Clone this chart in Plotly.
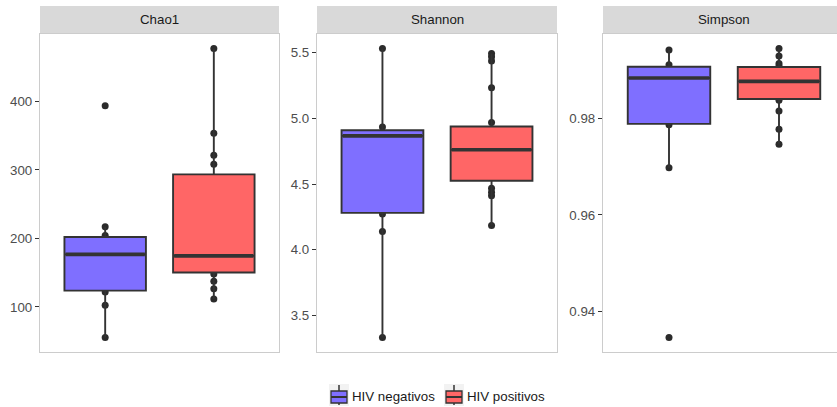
import plotly.graph_objects as go

W, H = 837, 407

GROUPS = ["HIV negativos", "HIV positivos"]
METRICS = ["Chao1", "Shannon", "Simpson"]
FILLS = ["rgb(127,111,255)", "rgb(255,102,102)"]

chao1_neg = [393.7, 217.0, 204.4, 194.7, 176.7, 146.0, 122.0, 102.4, 55.4]
chao1_pos = [477.2, 353.4, 321.4, 308.3, 279.6, 204.3, 188.8, 167.9, 148.0, 137.4, 126.7, 111.7]
shannon_neg = [5.533, 4.935, 4.870, 4.356, 4.272, 4.138, 3.330]
shannon_pos = [5.495, 5.470, 5.437, 5.234, 4.968, 4.918, 4.854, 4.715, 4.670, 4.594,
               4.467, 4.437, 4.411, 4.184]
simpson_neg = [0.99421, 0.99117, 0.98841, 0.98276, 0.97869, 0.96979, 0.93455]
simpson_pos = [0.99455, 0.99297, 0.99145, 0.99090, 0.98883, 0.98607, 0.98379, 0.98159,
               0.97779, 0.97469]

# box statistics: [negativos, positivos]
chao1_q1 = [123.8, 150.4]
chao1_med = [176.7, 174.5]
chao1_q3 = [202.0, 293.5]
chao1_lo = [55.4, 111.7]
chao1_hi = [217.0, 477.2]

shannon_q1 = [4.280, 4.525]
shannon_med = [4.867, 4.761]
shannon_q3 = [4.910, 4.938]
shannon_lo = [3.330, 4.184]
shannon_hi = [5.533, 5.495]

simpson_q1 = [0.97890, 0.98407]
simpson_med = [0.98841, 0.98772]
simpson_q3 = [0.99076, 0.99069]
simpson_lo = [0.96979, 0.97469]
simpson_hi = [0.99421, 0.99455]

chao1_ticks = [100, 200, 300, 400]
shannon_ticks = [3.5, 4.0, 4.5, 5.0, 5.5]
simpson_ticks = [0.94, 0.96, 0.98]

panels = [
    dict(name="Chao1", pts=[chao1_neg, chao1_pos], q1=chao1_q1, med=chao1_med, q3=chao1_q3,
         lo=chao1_lo, hi=chao1_hi, ticks=chao1_ticks, fmt="d"),
    dict(name="Shannon", pts=[shannon_neg, shannon_pos], q1=shannon_q1, med=shannon_med,
         q3=shannon_q3, lo=shannon_lo, hi=shannon_hi, ticks=shannon_ticks, fmt=".1f"),
    dict(name="Simpson", pts=[simpson_neg, simpson_pos], q1=simpson_q1, med=simpson_med,
         q3=simpson_q3, lo=simpson_lo, hi=simpson_hi, ticks=simpson_ticks, fmt=".2f"),
]

# pixel layout
PX_LEFT = [40, 317, 603]
PX_RIGHT = [279, 557, 845]
PLOT_TOP, PLOT_BOT = 34, 352
STRIP_TOP = 6
BOX_W = 0.75
FONT = "Liberation Sans, Arial, sans-serif"
BORDER = "#CCCCCC"
DARK = "#333333"

# legend key geometry (pixels)
KEY_X = [329, 444]
KEY_TOP, KEY_BOT = 384, 406
KEY_W = 20

fig = go.Figure()
layout = dict(
    width=W, height=H, margin=dict(l=0, r=0, t=0, b=0, autoexpand=False),
    paper_bgcolor="white", plot_bgcolor="white",
    font=dict(family=FONT, size=12, color="#4D4D4D"),
    showlegend=False,
    shapes=[], annotations=[],
)

ydom = [1 - PLOT_BOT / H, 1 - PLOT_TOP / H]


def px(x):
    return x / W


def py(y):
    return 1 - y / H


for i, p in enumerate(panels):
    k = i + 1
    xa = "x" if k == 1 else f"x{k}"
    ya = "y" if k == 1 else f"y{k}"
    yo = f"y{k + 3}"
    allv = p["pts"][0] + p["pts"][1]
    lo, hi = min(allv), max(allv)
    pad = 0.05 * (hi - lo)
    yr = [lo - pad, hi + pad]

    right = min(PX_RIGHT[i], W)
    d0, d1 = PX_LEFT[i] / W, right / W
    unit = (PX_RIGHT[i] - PX_LEFT[i]) / 2.2
    xr = [-0.6, -0.6 + (right - PX_LEFT[i]) / unit]

    layout[f"xaxis{'' if k == 1 else k}"] = dict(
        domain=[d0, d1], range=xr, anchor=ya, showgrid=False, zeroline=False,
        showticklabels=False, ticks="", showline=True, linecolor=BORDER, linewidth=1.3,
        mirror=True, fixedrange=True)
    layout[f"yaxis{'' if k == 1 else k}"] = dict(
        domain=ydom, range=yr, anchor=xa, showgrid=False, zeroline=False,
        tickvals=p["ticks"], tickformat=p["fmt"], ticks="outside", ticklen=4,
        tickcolor=DARK, tickwidth=1, tickfont=dict(size=13.3, color="#4D4D4D"),
        showline=True, linecolor=BORDER, linewidth=1.3, mirror=(k != 3), fixedrange=True)
    layout[f"yaxis{k + 3}"] = dict(
        overlaying=ya, range=yr, anchor=xa, visible=False, fixedrange=True)

    # strip
    layout["shapes"].append(dict(type="rect", xref="paper", yref="paper",
                                 x0=d0, x1=PX_RIGHT[i] / W, y0=py(PLOT_TOP),
                                 y1=py(STRIP_TOP), fillcolor="#D9D9D9",
                                 line=dict(width=0), layer="below"))
    layout["annotations"].append(dict(
        xref="paper", yref="paper", x=(PX_LEFT[i] + PX_RIGHT[i]) / 2 / W,
        y=py((PLOT_TOP + STRIP_TOP) / 2), text=p["name"], showarrow=False,
        xanchor="center", yanchor="middle", font=dict(size=13.3, color="#1A1A1A")))

    for g in range(2):
        # points (base subplot, under boxes)
        fig.add_trace(go.Scatter(
            x=[g] * len(p["pts"][g]), y=p["pts"][g], mode="markers", xaxis=xa, yaxis=ya,
            marker=dict(size=7, color="#2B2B2B"), showlegend=False, hoverinfo="y"))
    for g in range(2):
        fig.add_trace(go.Box(
            x=[g], q1=[p["q1"][g]], median=[p["med"][g]], q3=[p["q3"][g]],
            lowerfence=[p["lo"][g]], upperfence=[p["hi"][g]],
            name=GROUPS[g], legendgroup=GROUPS[g], showlegend=False,
            xaxis=xa, yaxis=yo, width=BOX_W, whiskerwidth=0, boxpoints=False,
            fillcolor=FILLS[g], line=dict(color=DARK, width=1.9)))
        fig.add_trace(go.Scatter(
            x=[g - BOX_W / 2 + 0.01, g + BOX_W / 2 - 0.01], y=[p["med"][g]] * 2,
            mode="lines", xaxis=xa, yaxis=yo, line=dict(color=DARK, width=3.6),
            showlegend=False, hoverinfo="skip"))

# legend (ggplot-style boxplot keys)
for g in range(2):
    x0 = KEY_X[g]
    cx = x0 + KEY_W / 2
    bt, bb = 391, 403
    mid = (KEY_TOP + KEY_BOT) / 2 + 2
    layout["shapes"] += [
        dict(type="rect", xref="paper", yref="paper", x0=px(x0), x1=px(x0 + KEY_W),
             y0=py(KEY_BOT), y1=py(KEY_TOP), fillcolor="#F2F2F2", line=dict(width=0)),
        dict(type="line", xref="paper", yref="paper", x0=px(cx), x1=px(cx),
             y0=py(KEY_TOP + 1), y1=py(KEY_BOT - 1), line=dict(color=DARK, width=1.5)),
        dict(type="rect", xref="paper", yref="paper", x0=px(x0 + 2), x1=px(x0 + KEY_W - 2),
             y0=py(bb), y1=py(bt), fillcolor=FILLS[g], line=dict(color=DARK, width=1.3)),
        dict(type="line", xref="paper", yref="paper", x0=px(x0 + 2), x1=px(x0 + KEY_W - 2),
             y0=py(mid), y1=py(mid), line=dict(color=DARK, width=2)),
    ]
    layout["annotations"].append(dict(
        xref="paper", yref="paper", x=px(x0 + KEY_W + 1), y=py((KEY_TOP + KEY_BOT) / 2 + 1),
        text=GROUPS[g], showarrow=False, xanchor="left", yanchor="middle",
        font=dict(size=13.3, color="#1A1A1A")))

fig.update_layout(**layout)
fig.write_html("out.html")
